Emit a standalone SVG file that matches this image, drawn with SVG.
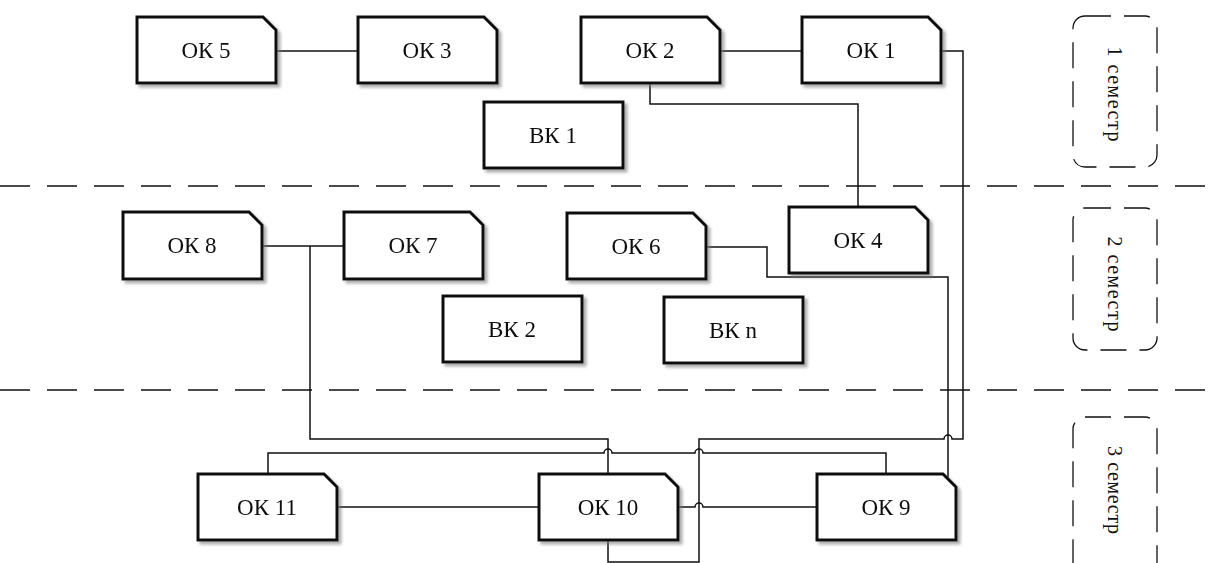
<svg xmlns="http://www.w3.org/2000/svg" width="1208" height="563" viewBox="0 0 1208 563">
<style>
.box{fill:#fff;stroke:#111;stroke-width:3;stroke-linejoin:miter}
.lbl{font-family:"Liberation Serif","Times New Roman",serif;font-size:23px;fill:#111;text-anchor:middle}
.conn{fill:none;stroke:#111;stroke-width:1.5}
.sep{fill:none;stroke:#111;stroke-width:1.5;stroke-dasharray:30 17}
.sem{fill:none;stroke:#111;stroke-width:1.3;stroke-dasharray:26 13}
.semt{font-family:"Liberation Serif","Times New Roman",serif;font-size:20px;fill:#111;text-anchor:middle}
</style>
<defs>
<filter id="sh" x="-10%" y="-10%" width="130%" height="140%">
<feDropShadow dx="3" dy="3" stdDeviation="1.6" flood-color="#777" flood-opacity="0.6"/>
</filter>
</defs>
<rect width="1208" height="563" fill="#fff"/>
<g id="separators">
<path class="sep" d="M0,186 H1208"/>
<path class="sep" d="M0,390 H1208"/>
</g>
<g id="connectors">
<path class="conn" d="M276,51 H358"/>
<path class="conn" d="M720,51 H802"/>
<path class="conn" d="M941,51 H963 V439 H952 A4,4 0 0 0 944,439 H699 V562 H608 V540"/>
<path class="conn" d="M650,83 V104 H858 V207"/>
<path class="conn" d="M262,246 H344"/>
<path class="conn" d="M310,246 V439 H608 V474"/>
<path class="conn" d="M706,247 H767 V277 H948 V507 H956"/>
<path class="conn" d="M268,474 V453 H604 A4,4 0 0 1 612,453 H695 A4,4 0 0 1 703,453 H886 V474"/>
<path class="conn" d="M337,507 H539"/>
<path class="conn" d="M678,507 H695 A4,4 0 0 1 703,507 H817"/>
</g>
<g id="ok5" filter="url(#sh)"><path class="box" d="M137,17 H263 L276,30 V83 H137 Z"/><text class="lbl" x="206" y="58">ОК 5</text></g>
<g id="ok3" filter="url(#sh)"><path class="box" d="M358,17 H484 L497,30 V83 H358 Z"/><text class="lbl" x="427" y="58">ОК 3</text></g>
<g id="ok2" filter="url(#sh)"><path class="box" d="M581,17 H707 L720,30 V83 H581 Z"/><text class="lbl" x="650" y="58">ОК 2</text></g>
<g id="ok1" filter="url(#sh)"><path class="box" d="M802,17 H928 L941,30 V83 H802 Z"/><text class="lbl" x="871" y="58">ОК 1</text></g>
<g id="bk1" filter="url(#sh)"><rect class="box" x="484" y="102" width="139" height="66"/><text class="lbl" x="553" y="143">ВК 1</text></g>
<g id="ok8" filter="url(#sh)"><path class="box" d="M123,212 H249 L262,225 V279 H123 Z"/><text class="lbl" x="192" y="253">ОК 8</text></g>
<g id="ok7" filter="url(#sh)"><path class="box" d="M344,212 H470 L483,225 V279 H344 Z"/><text class="lbl" x="413" y="253">ОК 7</text></g>
<g id="ok6" filter="url(#sh)"><path class="box" d="M567,213 H693 L706,226 V279 H567 Z"/><text class="lbl" x="636" y="254">ОК 6</text></g>
<g id="ok4" filter="url(#sh)"><path class="box" d="M789,207 H915 L928,220 V273 H789 Z"/><text class="lbl" x="858" y="248">ОК 4</text></g>
<g id="bk2" filter="url(#sh)"><rect class="box" x="443" y="296" width="139" height="66"/><text class="lbl" x="512" y="337">ВК 2</text></g>
<g id="bkn" filter="url(#sh)"><rect class="box" x="664" y="297" width="139" height="66"/><text class="lbl" x="733" y="338">ВК n</text></g>
<g id="ok11" filter="url(#sh)"><path class="box" d="M198,474 H324 L337,487 V540 H198 Z"/><text class="lbl" x="267" y="515">ОК 11</text></g>
<g id="ok10" filter="url(#sh)"><path class="box" d="M539,474 H665 L678,487 V540 H539 Z"/><text class="lbl" x="608" y="515">ОК 10</text></g>
<g id="ok9" filter="url(#sh)"><path class="box" d="M817,474 H943 L956,487 V540 H817 Z"/><text class="lbl" x="886" y="515">ОК 9</text></g>
<g id="sem1"><rect class="sem" x="1073" y="16" width="84" height="151" rx="12"/><text class="semt" transform="translate(1115,94) rotate(90)" dy="0.35em" textLength="95" lengthAdjust="spacing">1 семестр</text></g>
<g id="sem2"><rect class="sem" x="1073" y="208" width="84" height="142" rx="12"/><text class="semt" transform="translate(1115,284) rotate(90)" dy="0.35em" textLength="95" lengthAdjust="spacing">2 семестр</text></g>
<g id="sem3"><rect class="sem" x="1073" y="417" width="84" height="160" rx="12"/><text class="semt" transform="translate(1115,490) rotate(90)" dy="0.35em" textLength="88" lengthAdjust="spacing">3 семестр</text></g>
</svg>
